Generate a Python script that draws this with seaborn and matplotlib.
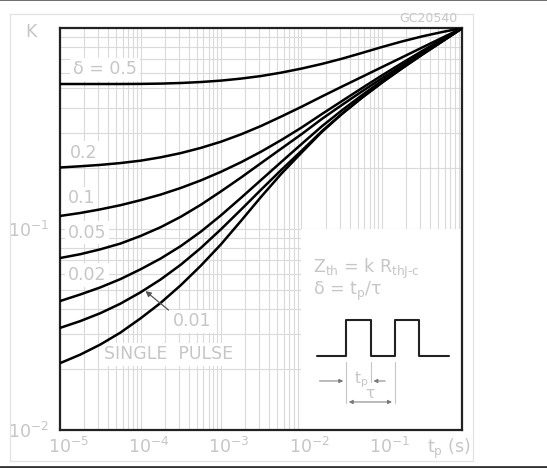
import numpy as np
import pandas as pd
import seaborn as sns
import matplotlib.pyplot as plt
import matplotlib.transforms as mtransforms
from matplotlib.patches import Rectangle
from matplotlib.lines import Line2D
from matplotlib.ticker import FixedLocator, LogLocator, NullFormatter

# pulse width tp (s) and normalised thermal impedance K
tp = [1e-5, 1.78e-5, 3.16e-5, 5.62e-5, 1e-4, 1.78e-4, 3.16e-4, 5.62e-4,
      1e-3, 1.78e-3, 3.16e-3, 5.62e-3, 1e-2, 1.78e-2, 3.16e-2, 5.62e-2,
      1e-1, 1.78e-1, 3.16e-1, 5.62e-1, 1.0]
k_050 = [0.5264, 0.5264, 0.5264, 0.5264, 0.5270, 0.5288, 0.5325, 0.5385,
         0.5473, 0.5601, 0.5769, 0.5998, 0.6281, 0.6621, 0.7028, 0.7511,
         0.8042, 0.8575, 0.9083, 0.9552, 1.0]
k_020 = [0.2023, 0.2051, 0.2084, 0.2128, 0.2187, 0.2273, 0.2385, 0.2532,
         0.2718, 0.2959, 0.3258, 0.3628, 0.4055, 0.4557, 0.5105, 0.5710,
         0.6390, 0.7148, 0.7998, 0.8948, 1.0]
k_010 = [0.1161, 0.1201, 0.1252, 0.1313, 0.1391, 0.1483, 0.1600, 0.1745,
         0.1926, 0.2150, 0.2427, 0.2772, 0.3195, 0.3725, 0.4323, 0.5018,
         0.5810, 0.6697, 0.7684, 0.8777, 1.0]
k_005 = [0.0717, 0.0749, 0.0792, 0.0846, 0.0923, 0.1021, 0.1150, 0.1320,
         0.1539, 0.1805, 0.2130, 0.2512, 0.2962, 0.3522, 0.4134, 0.4832,
         0.5620, 0.6508, 0.7501, 0.8646, 1.0]
k_002 = [0.0438, 0.0472, 0.0512, 0.0563, 0.0630, 0.0713, 0.0822, 0.0970,
         0.1170, 0.1431, 0.1756, 0.2157, 0.2645, 0.3236, 0.3887, 0.4626,
         0.5455, 0.6375, 0.7423, 0.8616, 1.0]
k_001 = [0.0322, 0.0348, 0.0381, 0.0425, 0.0484, 0.0561, 0.0664, 0.0805,
         0.0997, 0.1250, 0.1572, 0.1968, 0.2447, 0.3059, 0.3733, 0.4495,
         0.5351, 0.6310, 0.7391, 0.8616, 1.0]
k_single = [0.0215, 0.0237, 0.0266, 0.0305, 0.0359, 0.0429, 0.0525, 0.0657,
            0.0839, 0.1100, 0.1448, 0.1884, 0.2397, 0.3034, 0.3729, 0.4500,
            0.5357, 0.6303, 0.7366, 0.8567, 1.0]

curves = {"0.5": k_050, "0.2": k_020, "0.1": k_010, "0.05": k_005,
          "0.02": k_002, "0.01": k_001, "single": k_single}
rows = []
for d, ks in curves.items():
    for t, k in zip(tp, ks):
        rows.append({"tp": t, "K": k, "delta": d})
df = pd.DataFrame(rows)

sns.set_style("white")
plt.rcParams["font.family"] = ["DejaVu Sans"]
plt.rcParams["mathtext.fontset"] = "dejavusans"

txt = "#c6c6c6"
gridc = "#dadada"

fig = plt.figure(figsize=(5.47, 4.68), dpi=100)
ax = fig.add_axes([0.1097, 0.0812, 0.7358, 0.859])

sns.lineplot(data=df, x="tp", y="K", hue="delta", palette=["black"] * 7,
             legend=False, lw=1.8, sort=True, ax=ax, zorder=3)

ax.set_xscale("log")
ax.set_yscale("log")
ax.set_xlim(1e-5, 1)
ax.set_ylim(1e-2, 1)
ax.set_xlabel("")
ax.set_ylabel("")

ax.xaxis.set_major_locator(FixedLocator([1e-5, 1e-4, 1e-3, 1e-2, 1e-1]))
ax.yaxis.set_major_locator(FixedLocator([1e-2, 1e-1]))
ax.xaxis.set_minor_locator(LogLocator(base=10, subs=np.arange(2, 10)))
ax.yaxis.set_minor_locator(LogLocator(base=10, subs=np.arange(2, 10)))
ax.xaxis.set_minor_formatter(NullFormatter())
ax.yaxis.set_minor_formatter(NullFormatter())
ax.set_axisbelow(True)
ax.grid(which="both", color=gridc, lw=0.8)
ax.tick_params(which="both", length=0, labelsize=12.5, labelcolor=txt)
ax.tick_params(axis="x", pad=5)
ax.tick_params(axis="y", pad=8)
for sp in ax.spines.values():
    sp.set_color("#222222")
    sp.set_linewidth(1.6)

shift = mtransforms.ScaledTranslation(0.08, 0, fig.dpi_scale_trans)
for lbl in ax.get_xticklabels():
    lbl.set_transform(lbl.get_transform() + shift)

# blank panel for the formula and pulse sketch
ax.add_patch(Rectangle((1e-2, 1e-2), 1 - 1e-2, 1e-1 - 1e-2, fc="white",
                       ec="none", zorder=1))

box = dict(fc="white", ec="none", pad=2)
lab = dict(transform=ax.transAxes, color=txt, fontsize=12.5, va="center",
           ha="left", bbox=box, zorder=2)
ax.text(0.032, 0.897, "δ = 0.5", **lab)
ax.text(0.025, 0.690, "0.2", **lab)
ax.text(0.020, 0.576, "0.1", **lab)
ax.text(0.020, 0.491, "0.05", **lab)
ax.text(0.020, 0.386, "0.02", **lab)
ax.text(0.281, 0.270, "0.01", **lab)
ax.text(0.109, 0.188, "SINGLE  PULSE", **lab)
ax.annotate("", xy=(0.207, 0.350), xytext=(0.275, 0.294),
            xycoords="axes fraction", textcoords="axes fraction",
            arrowprops=dict(arrowstyle="-|>", color="#555555", lw=0.9,
                            mutation_scale=8), zorder=4)

plain = dict(transform=ax.transAxes, color=txt, fontsize=12.5, va="center",
             ha="left", zorder=2)
ax.text(0.6286, 0.400, "Z$_{\\rm th}$ = k R$_{\\rm thJ\u2010c}$", **plain)
ax.text(0.6286, 0.346, r"δ = t$_{\rm p}$/τ", **plain)

# pulse train sketch
px = [0.6378, 0.7106, 0.7106, 0.7719, 0.7719, 0.8315, 0.8315, 0.8919, 0.8919, 0.9665]
py = [0.1841, 0.1841, 0.2736, 0.2736, 0.1841, 0.1841, 0.2736, 0.2736, 0.1841, 0.1841]
ax.plot(px, py, color="#222222", lw=1.5, transform=ax.transAxes, zorder=3)
for x0, y1 in [(0.7106, 0.0672), (0.7719, 0.1201), (0.8315, 0.0672)]:
    ax.plot([x0, x0], [0.1699, y1], color=txt, lw=0.8, transform=ax.transAxes, zorder=3)
dim = dict(xycoords="axes fraction", textcoords="axes fraction", zorder=3)
ax.annotate("", xy=(0.7106, 0.1219), xytext=(0.6378, 0.1219),
            arrowprops=dict(arrowstyle="-|>", color="#777777", lw=0.7, mutation_scale=6), **dim)
ax.annotate("", xy=(0.7719, 0.1219), xytext=(0.8149, 0.1219),
            arrowprops=dict(arrowstyle="-|>", color="#777777", lw=0.7, mutation_scale=6), **dim)
ax.annotate("", xy=(0.7106, 0.0697), xytext=(0.8315, 0.0697),
            arrowprops=dict(arrowstyle="<|-|>", color="#777777", lw=0.7, mutation_scale=6), **dim)
ax.text(0.7478, 0.1244, r"t$_{\rm p}$", transform=ax.transAxes, color=txt,
        fontsize=11, ha="center", va="center", zorder=3)
ax.text(0.7702, 0.0900, "τ", transform=ax.transAxes, color=txt,
        fontsize=11, ha="center", va="center", zorder=3)

# axis captions and drawing code
fig.text(0.0558, 0.9316, "K", color=txt, fontsize=12.5, ha="center", va="center")
fig.text(0.8208, 0.0406, r"t$_{\rm p}$ (s)", color=txt, fontsize=12.5, ha="center", va="center")
fig.text(0.7824, 0.9615, "GC20540", color=txt, fontsize=9, ha="center", va="center")

# frame around the drawing and page rules
fig.patches.append(Rectangle((10 / 547, 1 - 461 / 468), 463 / 547, 447 / 468,
                             transform=fig.transFigure, fill=False,
                             ec="#e2e2e2", lw=0.9, figure=fig))
fig.add_artist(Line2D([0, 1], [0.999, 0.999], color="#555555", lw=1.2,
                      transform=fig.transFigure))
fig.add_artist(Line2D([0, 1], [1 - 467 / 468, 1 - 467 / 468], color="#333333", lw=2,
                      transform=fig.transFigure))

fig.savefig("out.png", dpi=100, facecolor="white")
